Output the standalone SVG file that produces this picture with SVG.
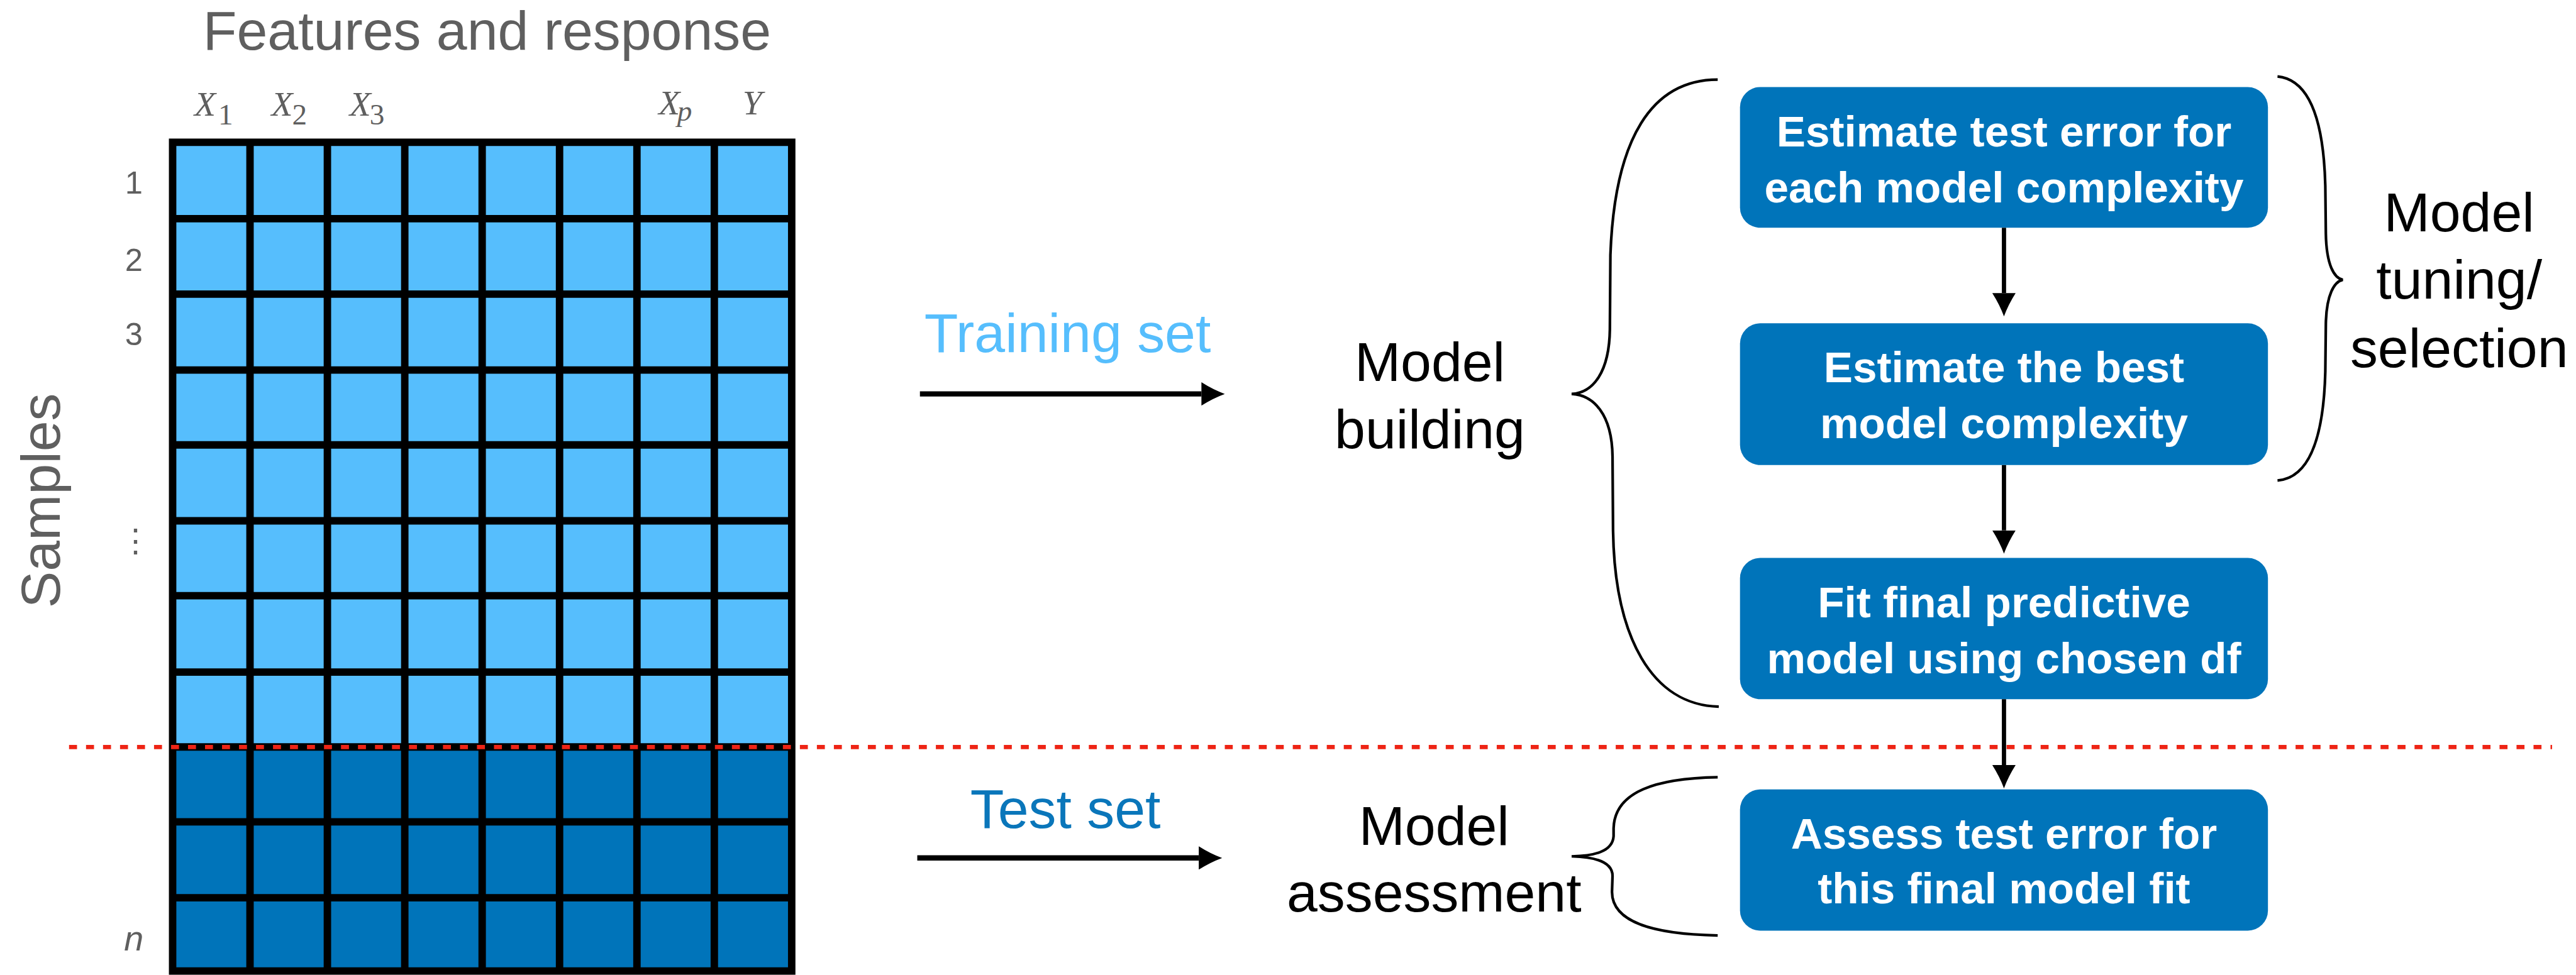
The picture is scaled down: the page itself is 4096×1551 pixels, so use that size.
<svg xmlns="http://www.w3.org/2000/svg" width="4096" height="1551" viewBox="0 0 4096 1551">
<style>
.gray{fill:#5f5f5f;font-family:"Liberation Sans",Arial,sans-serif}
.col{fill:#5f5f5f;font-family:"Liberation Serif","Times New Roman",serif;font-style:italic;font-size:66px}
.sub{font-size:56px;font-style:normal}
.subi{font-size:56px;font-style:italic}
.lbl{font-family:"Liberation Sans",Arial,sans-serif;font-size:104px;text-anchor:middle}
.box rect{fill:#0074ba}
.box text{fill:#ffffff;font-family:"Liberation Sans",Arial,sans-serif;font-weight:bold;font-size:82px;text-anchor:middle}
.brace{fill:none;stroke:#000;stroke-width:5}
.conn{fill:none;stroke:#000}
.gl{stroke:#000;stroke-width:14}
</style>
<defs>
<marker id="ah" viewBox="0 0 44 44" markerUnits="userSpaceOnUse" markerWidth="44" markerHeight="44" refX="0" refY="22" orient="auto">
<path d="M0,0 Q22,14 44,22 Q22,30 0,44 Z" fill="#000"/>
</marker>
</defs>
<rect width="4096" height="1551" fill="#ffffff"/>
<g transform="scale(0.84454)">
<g id="matrix">
<text class="gray" x="917" y="94" font-size="104" text-anchor="middle">Features and response</text>
<text class="col"><tspan x="366" y="218">X</tspan><tspan class="sub" x="411" y="234">1</tspan></text>
<text class="col"><tspan x="511" y="218">X</tspan><tspan class="sub" x="550" y="234">2</tspan></text>
<text class="col"><tspan x="658" y="218">X</tspan><tspan class="sub" x="696" y="234">3</tspan></text>
<text class="col"><tspan x="1240" y="216">X</tspan><tspan class="subi" x="1275" y="227">p</tspan></text>
<text class="col"><tspan x="1398" y="215">Y</tspan></text>
<text class="gray" x="252" y="365" font-size="60" text-anchor="middle">1</text>
<text class="gray" x="252" y="510" font-size="60" text-anchor="middle">2</text>
<text class="gray" x="252" y="650" font-size="60" text-anchor="middle">3</text>
<text class="gray" x="255" y="1040" font-size="60" text-anchor="middle" font-family="DejaVu Sans">⋮</text>
<text class="gray" x="252" y="1790" font-size="66" font-style="italic" text-anchor="middle">n</text>
<text class="gray" font-size="104" text-anchor="middle" transform="translate(112,943) rotate(-90)">Samples</text>
<rect x="325" y="268" width="1165.6" height="1139" fill="#56befd"/>
<rect x="325" y="1407" width="1165.6" height="422" fill="#0074ba"/>
<g class="gl">
<line x1="325" y1="412" x2="1490.6" y2="412"/>
<line x1="325" y1="554" x2="1490.6" y2="554"/>
<line x1="325" y1="697" x2="1490.6" y2="697"/>
<line x1="325" y1="838" x2="1490.6" y2="838"/>
<line x1="325" y1="981" x2="1490.6" y2="981"/>
<line x1="325" y1="1122" x2="1490.6" y2="1122"/>
<line x1="325" y1="1266" x2="1490.6" y2="1266"/>
<line x1="325" y1="1407" x2="1490.6" y2="1407"/>
<line x1="325" y1="1548" x2="1490.6" y2="1548"/>
<line x1="325" y1="1691" x2="1490.6" y2="1691"/>
<line x1="470.7" y1="268" x2="470.7" y2="1829"/>
<line x1="616.4" y1="268" x2="616.4" y2="1829"/>
<line x1="762.1" y1="268" x2="762.1" y2="1829"/>
<line x1="907.8" y1="268" x2="907.8" y2="1829"/>
<line x1="1053.5" y1="268" x2="1053.5" y2="1829"/>
<line x1="1199.2" y1="268" x2="1199.2" y2="1829"/>
<line x1="1344.9" y1="268" x2="1344.9" y2="1829"/>
<rect x="325" y="268" width="1165.6" height="1561" fill="none"/>
</g>
</g>
<line id="split" x1="130" y1="1407" x2="4805" y2="1407" stroke="#ee2415" stroke-width="8" stroke-dasharray="15 17"/>
<g id="training-label">
<text class="lbl" x="2010" y="663" fill="#56befd">Training set</text>
</g>
<g id="test-label">
<text class="lbl" x="2006" y="1559" fill="#0a76ba">Test set</text>
</g>
<g id="model-building">
<text class="lbl" x="2692" y="717" fill="#000">Model</text>
<text class="lbl" x="2692" y="844" fill="#000">building</text>
<path class="brace" d="M3234,150 C3110,150 3040,260 3032,480 L3031,620 C3030,700 3000,740 2959,742 C3000,744 3035,780 3036,860 L3037,1000 C3040,1200 3110,1328 3236,1331"/>
</g>
<g id="model-assessment">
<text class="lbl" x="2700" y="1591" fill="#000">Model</text>
<text class="lbl" x="2700" y="1717" fill="#000">assessment</text>
<path class="brace" d="M3234,1464 C3120,1466 3040,1490 3038,1560 L3038,1575 C3036,1605 3000,1612 2959,1613 C3000,1614 3036,1622 3036,1650 L3035,1680 C3035,1740 3120,1760 3234,1762"/>
</g>
<g id="model-tuning">
<text class="lbl" x="4630" y="436" fill="#000">Model</text>
<text class="lbl" x="4630" y="562" fill="#000">tuning/</text>
<text class="lbl" x="4630" y="691" fill="#000">selection</text>
<path class="brace" d="M4288,144 C4350,150 4375,230 4378,350 L4379,440 C4380,500 4395,524 4411,527 C4395,530 4380,555 4379,610 L4378,700 C4375,820 4350,900 4288,905"/>
</g>
<g id="box1" class="box">
<rect x="3276" y="164" width="994" height="265" rx="38"/>
<text x="3773" y="276">Estimate test error for</text>
<text x="3773" y="381">each model complexity</text>
</g>
<g id="box2" class="box">
<rect x="3276" y="609" width="994" height="267" rx="38"/>
<text x="3773" y="720">Estimate the best</text>
<text x="3773" y="825">model complexity</text>
</g>
<g id="box3" class="box">
<rect x="3276" y="1051" width="994" height="266" rx="38"/>
<text x="3773" y="1163">Fit final predictive</text>
<text x="3773" y="1268">model using chosen df</text>
</g>
<g id="box4" class="box">
<rect x="3276" y="1487" width="994" height="266" rx="38"/>
<text x="3773" y="1598">Assess test error for</text>
<text x="3773" y="1701">this final model fit</text>
</g>
<g id="connectors">
<path class="conn" stroke-width="10" d="M1732,742 L2262,742" marker-end="url(#ah)"/>
<path class="conn" stroke-width="10" d="M1727,1616 L2257,1616" marker-end="url(#ah)"/>
<path class="conn" stroke-width="8" d="M3773,429 L3773,552" marker-end="url(#ah)"/>
<path class="conn" stroke-width="8" d="M3773,876 L3773,999" marker-end="url(#ah)"/>
<path class="conn" stroke-width="8" d="M3773,1317 L3773,1441" marker-end="url(#ah)"/>
</g>
</g>
</svg>
